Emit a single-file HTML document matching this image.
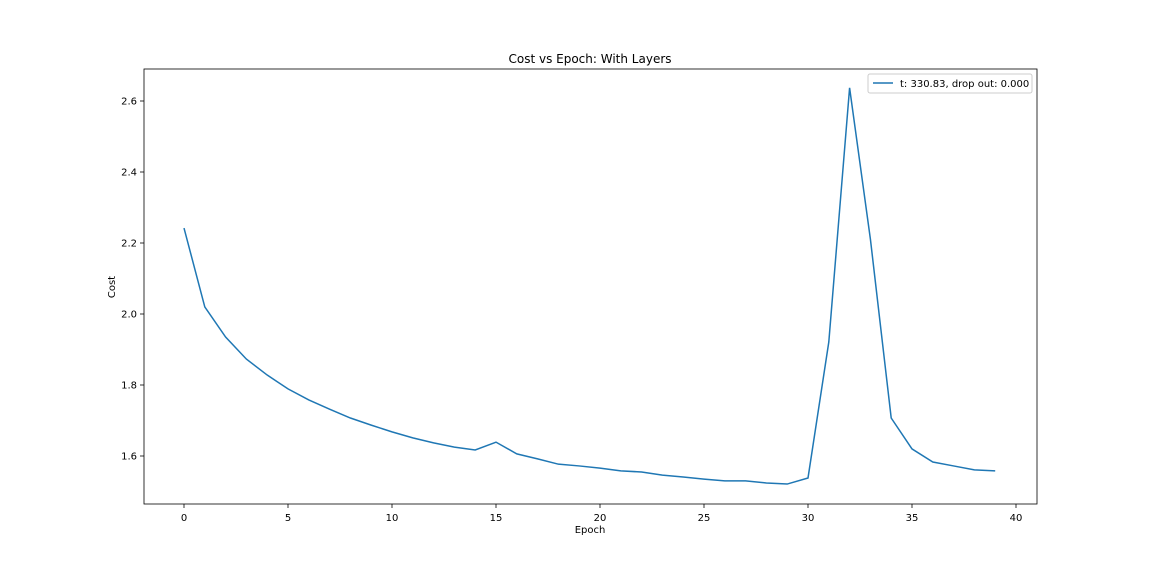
<!DOCTYPE html>
<html><head><meta charset="utf-8"><style>
body{margin:0;background:#fff;}
svg text{font-family:"DejaVu Sans","Liberation Sans",sans-serif;fill:#000;}
</style></head><body>
<svg id="chart" width="1152" height="576" xmlns="http://www.w3.org/2000/svg"></svg>
<script>
const epochs=[0,1,2,3,4,5,6,7,8,9,10,11,12,13,14,15,16,17,18,19,20,21,22,23,24,25,26,27,28,29,30,31,32,33,34,35,36,37,38,39];
const costs=[2.242,2.020,1.935,1.873,1.828,1.789,1.758,1.732,1.707,1.687,1.668,1.651,1.637,1.625,1.617,1.639,1.606,1.592,1.577,1.572,1.566,1.558,1.555,1.546,1.541,1.535,1.530,1.530,1.524,1.521,1.538,1.921,2.637,2.211,1.707,1.620,1.583,1.572,1.561,1.558];
const xTicks=[0,5,10,15,20,25,30,35,40];
const yTicks=[1.6,1.8,2.0,2.2,2.4,2.6];
const L=144,R=1037,T=69,B=504;
const X=v=>184+(v-0)*(1016-184)/40;
const Y=v=>456-(v-1.6)*355;
const svg=document.getElementById('chart');
const NS='http://www.w3.org/2000/svg';
function mk(tag,attrs,txt){const e=document.createElementNS(NS,tag);for(const k in attrs)e.setAttribute(k,attrs[k]);if(txt!==undefined)e.textContent=txt;svg.appendChild(e);return e;}
let e;
e=mk('text',{x:590,y:63,'text-anchor':'middle','font-size':12},'Cost vs Epoch: With Layers');


xTicks.forEach(t=>{
 e=mk('line',{x1:X(t),x2:X(t),y1:B,y2:B+4,stroke:'#000','stroke-width':0.8});
 
 
 e=mk('text',{x:X(t),y:B+17,'text-anchor':'middle','font-size':10},String(t));
 
 
});
yTicks.forEach(t=>{
 e=mk('line',{x1:L-4,x2:L,y1:Y(t),y2:Y(t),stroke:'#000','stroke-width':0.8});
 
 
 e=mk('text',{x:L-7,y:Y(t)+3.5,'text-anchor':'end','font-size':10},t.toFixed(1));
 
 
});
e=mk('text',{x:590,y:533,'text-anchor':'middle','font-size':10},'Epoch');


e=mk('text',{x:115,y:287,'text-anchor':'middle','font-size':10,transform:'rotate(-90 115 287)'},'Cost');


e=mk('polyline',{points:epochs.map((x,i)=>X(x)+','+Y(costs[i])).join(' '),fill:'none',stroke:'#1f77b4','stroke-width':1.5});


e=mk('rect',{x:L,y:T,width:R-L,height:B-T,fill:'none',stroke:'#000','stroke-width':0.8});


e=mk('rect',{x:868,y:74,width:164,height:19,rx:2,fill:'#fff',stroke:'#ccc','stroke-width':1});


e=mk('line',{x1:873,x2:893,y1:83,y2:83,stroke:'#1f77b4','stroke-width':1.5});


e=mk('text',{x:900,y:87,'font-size':10},'t: 330.83, drop out: 0.000');


</script>
</body></html>
